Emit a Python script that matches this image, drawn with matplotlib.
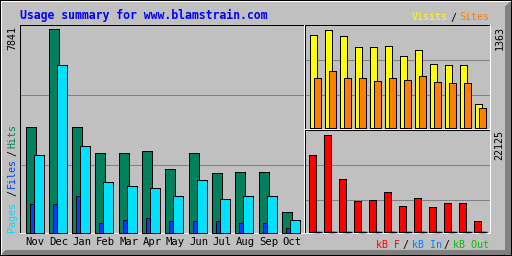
import matplotlib
matplotlib.use("Agg")
import matplotlib.pyplot as plt
from matplotlib.patches import Rectangle, Polygon
import numpy as np

# ---------------- data ----------------
months = ["Nov", "Dec", "Jan", "Feb", "Mar", "Apr", "May", "Jun", "Jul", "Aug", "Sep", "Oct"]
hits = [4056, 7841, 4056, 3052, 3090, 3129, 2472, 3090, 2279, 2318, 2318, 811]
files = [1120, 1120, 1391, 386, 464, 541, 425, 425, 425, 386, 386, 155]
pages = [2975, 6451, 3322, 1932, 1777, 1738, 1429, 2009, 1313, 1429, 1429, 464]
visits = [1280, 1363, 1266, 1113, 1113, 1140, 988, 1071, 890, 876, 876, 320]
sites = [682, 779, 682, 682, 640, 695, 654, 723, 626, 612, 612, 278]
kbytes = [17563, 22125, 11861, 6843, 7071, 8896, 5930, 7755, 5702, 6387, 6387, 2281]
kb_in = [0] * 12
kb_out = [0] * 12
title = "Usage summary for www.blamstrain.com"

# ---------------- style ----------------
W, H = 512, 256
BG = "#C0C0C0"
DARK = "#808080"
C_HITS, C_FILES, C_PAGES = "#00805C", "#0040FF", "#00E0FF"
C_VISITS, C_SITES, C_KB = "#FFFF00", "#FF8000", "#FF0000"
C_KBIN, C_KBOUT = "#0080FF", "#00C000"
MONO = "DejaVu Sans Mono"
FS = 7.2
LW = 0.72

fig = plt.figure(figsize=(W / 100, H / 100), dpi=100, facecolor=BG)


def px_axes(x0, y0, x1, y1):
    return fig.add_axes([x0 / W, 1 - y1 / H, (x1 - x0) / W, (y1 - y0) / H])


ov = px_axes(0, 0, W, H)
ov.set_xlim(0, W)
ov.set_ylim(H, 0)
ov.axis("off")
ov.set_zorder(0)


def fill(x0, y0, w, h, c):
    ov.add_patch(Rectangle((x0, y0), w, h, facecolor=c, edgecolor="none",
                           lw=0, antialiased=False))


# outer 3-D border
ov.add_patch(Polygon([(511, 1), (505, 7), (505, 250), (511, 255)], closed=True,
                     facecolor=DARK, edgecolor="none", antialiased=False))
ov.add_patch(Polygon([(1, 255), (6, 250), (505, 250), (511, 255)], closed=True,
                     facecolor=DARK, edgecolor="none", antialiased=False))
fill(1, 1, 510, 1, "white")
fill(1, 1, 1, 254, "white")
fill(0, 0, 512, 1, "black")
fill(0, 255, 512, 1, "black")
fill(0, 0, 1, 256, "black")
fill(511, 0, 1, 256, "black")

# panel frames (black top/left, white bottom/right)
def frame(x0, y0, x1, y1):
    fill(x0, y0, x1 - x0 + 1, 1, "black")
    fill(x0, y0, 1, y1 - y0 + 1, "black")
    fill(x1, y0, 1, y1 - y0 + 1, "white")
    fill(x0, y1, x1 - x0 + 1, 1, "white")


frame(20, 25, 304, 233)
frame(305, 25, 490, 129)
frame(305, 130, 490, 233)

# grid lines
for r in (95, 165):
    fill(21, r, 283, 1, DARK)
for r in (60, 95):
    fill(306, r, 184, 1, DARK)
for r in (165, 200):
    fill(306, r, 184, 1, DARK)

idx = np.arange(len(months))

# ---------------- main panel: hits / files / pages ----------------
axm = px_axes(20, 29.5, 304, 232.5)
axm.set_zorder(1)
axm.patch.set_visible(False)
sp = 23.33
axm.set_xlim((20 - 25.5) / sp, (304 - 25.5) / sp)
axm.set_ylim(0, max(hits))
bw = 10 / sp
kw = dict(edgecolor="black", linewidth=LW, align="edge", clip_on=False, antialiased=False)
axm.bar(idx, hits, bw, color=C_HITS, **kw)
axm.bar(idx + 4 / sp, files, bw, color=C_FILES, **kw)
axm.bar(idx + 8 / sp, pages, bw, color=C_PAGES, **kw)
for s in axm.spines.values():
    s.set_visible(False)
axm.set_yticks([])
axm.set_xticks(idx + 0.42)
axm.set_xticklabels(months, fontfamily=MONO, fontsize=7.6, color="black")
axm.tick_params(axis="x", length=0, pad=3.2)

# ---------------- top right: visits / sites ----------------
sp2 = 15.0
bw2 = 7 / sp2
axr = px_axes(305, 29.5, 490, 127.5)
axr.set_zorder(1)
axr.patch.set_visible(False)
axr.set_xlim((305 - 309.5) / sp2, (490 - 309.5) / sp2)
axr.set_ylim(0, max(visits))
axr.bar(idx, visits, bw2, color=C_VISITS, **kw)
axr.bar(idx + 4 / sp2, sites, bw2, color=C_SITES, **kw)
axr.axis("off")

# ---------------- bottom right: kbytes ----------------
axk = px_axes(305, 134.5, 490, 231.5)
axk.set_zorder(1)
axk.patch.set_visible(False)
axk.set_xlim((305 - 309.5) / sp2, (490 - 309.5) / sp2)
axk.set_ylim(0, max(kbytes))
axk.bar(idx - 1 / sp2, kbytes, bw2, color=C_KB, **kw)
# kB In / kB Out are zero: their bars collapse to flat black outlines
axk.hlines(kb_in, idx + 2 / sp2, idx + 2 / sp2 + bw2, colors="black",
           linewidth=1.0, clip_on=False)
axk.hlines(kb_out, idx + 5 / sp2, idx + 5 / sp2 + bw2, colors="black",
           linewidth=1.0, clip_on=False)
axk.axis("off")

# ---------------- texts ----------------
tk = dict(fontfamily=MONO, fontsize=FS)
ov.text(20, 18.5, title, color="#0000FF", fontfamily=MONO, fontweight="bold",
        fontsize=8.3, ha="left", va="baseline")

ov.text(12.8, 26.5, str(max(hits)), rotation=90, ha="center", va="top", color="black", **tk)
ov.text(499.7, 26.5, str(max(visits)), rotation=90, ha="center", va="top", color="black", **tk)
ov.text(499.7, 130.5, str(max(kbytes)), rotation=90, ha="center", va="top", color="black", **tk)

# vertical legend: Pages / Files / Hits
ov.text(12.3, 232.3, "Pages", rotation=90, ha="center", va="bottom", color=C_PAGES, **tk)
ov.text(12.3, 193, "/", rotation=90, ha="center", va="center", color="black", **tk)
ov.text(12.3, 188, "Files", rotation=90, ha="center", va="bottom", color=C_FILES, **tk)
ov.text(12.3, 153, "/", rotation=90, ha="center", va="center", color="black", **tk)
ov.text(12.3, 148, "Hits", rotation=90, ha="center", va="bottom", color=C_HITS, **tk)

# Visits / Sites
ov.text(411.7, 20.5, "Visits", ha="left", va="baseline", color=C_VISITS, **tk)
ov.text(453.7, 20.5, "/", ha="center", va="baseline", color="black", **tk)
ov.text(459.3, 20.5, "Sites", ha="left", va="baseline", color=C_SITES, **tk)

# kB F / kB In / kB Out
ov.text(376, 248, "kB F", ha="left", va="baseline", color=C_KB, **tk)
ov.text(405.7, 248, "/", ha="center", va="baseline", color="black", **tk)
ov.text(411.7, 248, "kB In", ha="left", va="baseline", color=C_KBIN, **tk)
ov.text(446.7, 248, "/", ha="center", va="baseline", color="black", **tk)
ov.text(453.3, 248, "kB Out", ha="left", va="baseline", color=C_KBOUT, **tk)

fig.savefig("out.png", dpi=100, facecolor=BG)
